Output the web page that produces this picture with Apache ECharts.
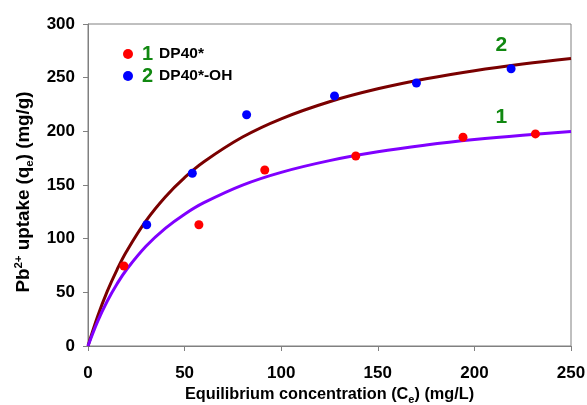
<!DOCTYPE html>
<html><head><meta charset="utf-8">
<script src="https://cdn.jsdelivr.net/npm/echarts@6/dist/echarts.min.js"></script>
<style>html,body{margin:0;padding:0;background:#fff}#c{width:587px;height:405px}</style>
</head><body><div id="c"></div>
<script>
// Measured points
var dp40 = [[18.6,74.5],[57.4,113],[91.5,164],[138.6,177],[194.1,194.5],[231.6,197.6]];
var dp40oh = [[30.4,113],[54,161],[82.1,215.5],[127.6,233],[170,245],[219,258.3]];
// Fitted curves
var fitX  = [0,5,10,15,20,30,40,50,60,80,100,125,150,175,200,225,250];
var fit1Y = [0,23.0,41.9,57.8,71.3,92.9,109.6,122.8,133.5,149.9,161.8,172.7,180.9,187.2,192.3,196.4,199.8];
var fit2Y = [0,27.7,51.1,71.0,88.3,116.6,138.9,156.9,171.7,194.7,211.7,227.6,239.6,249.0,256.5,262.7,267.9];
var xTicks = [0,50,100,150,200,250];
var yTicks = [0,50,100,150,200,250,300];

function pairs(xs, ys){ return xs.map(function(x,i){return [x, ys[i]];}); }

var chart = echarts.init(document.getElementById('c'));
var F = 'Liberation Sans, Arial, sans-serif';
chart.setOption({
  animation:false,
  grid:{left:88,right:16,top:24,bottom:59,show:true,borderColor:'#808080',borderWidth:1,
        containLabel:false,outerBoundsMode:'none'},
  legend:{
    orient:'vertical', left:118, top:39, itemGap:2, itemWidth:10, itemHeight:10,
    data:[{name:'DP40*',icon:'circle'},{name:'DP40*-OH',icon:'circle'}],
    formatter:function(n){ return '{n|'+(n==='DP40*'?'1':'2')+'}{t|'+n+'}'; },
    textStyle:{ rich:{
      n:{color:'#118811',fontSize:20,fontWeight:'bold',fontFamily:F,padding:[0,0,0,4]},
      t:{color:'#000',fontSize:15.5,fontWeight:'bold',fontFamily:F,padding:[0,0,0,6]}
    }}
  },
  xAxis:{
    type:'value', min:0, max:250, interval:50,
    name:'{a|Equilibrium concentration (C}{s|e}{a|) (mg/L)}',
    nameLocation:'middle', nameGap:37,
    nameTextStyle:{rich:{a:{fontSize:16.3,fontWeight:'bold',color:'#000',fontFamily:F},
                          s:{fontSize:11,fontWeight:'bold',color:'#000',fontFamily:F,padding:[10,0,0,0]}}},
    axisLine:{lineStyle:{color:'#808080'}},
    axisTick:{show:true,length:5,lineStyle:{color:'#808080'}},
    splitLine:{show:false},
    axisLabel:{fontSize:17,fontWeight:'bold',color:'#000',fontFamily:F,margin:19,
      formatter:function(v){return xTicks.indexOf(v)>=0?String(v):'';}}
  },
  yAxis:{
    type:'value', min:0, max:300, interval:50,
    name:'{a|Pb}{p|2+}{a| uptake (q}{s|e}{a|) (mg/g)}',
    nameLocation:'middle', nameGap:47, nameRotate:90,
    nameTextStyle:{padding:[0,14,0,0],
                   rich:{a:{fontSize:18.8,fontWeight:'bold',color:'#000',fontFamily:F},
                          p:{fontSize:11.5,fontWeight:'bold',color:'#000',fontFamily:F,padding:[0,0,11,0]},
                          s:{fontSize:11.5,fontWeight:'bold',color:'#000',fontFamily:F,padding:[11,0,0,0]}}},
    axisLine:{show:true,lineStyle:{color:'#808080'}},
    axisTick:{show:true,length:5,lineStyle:{color:'#808080'}},
    splitLine:{show:false},
    axisLabel:{fontSize:17,fontWeight:'bold',color:'#000',fontFamily:F,margin:13,
      formatter:function(v){return yTicks.indexOf(v)>=0?String(v):'';}}
  },
  series:[
    {name:'fit2',type:'line',data:pairs(fitX,fit2Y),smooth:0.4,showSymbol:false,
     lineStyle:{color:'#7a0000',width:3},z:2,
     markPoint:{symbol:'circle',symbolSize:0,data:[{coord:[214,280.5],value:'2'}],
       label:{show:true,formatter:'2',color:'#118811',fontSize:21,fontWeight:'bold',fontFamily:F}}},
    {name:'fit1',type:'line',data:pairs(fitX,fit1Y),smooth:0.4,showSymbol:false,
     lineStyle:{color:'#8000ff',width:3},z:2,
     markPoint:{symbol:'circle',symbolSize:0,data:[{coord:[214,213.5],value:'1'}],
       label:{show:true,formatter:'1',color:'#118811',fontSize:21,fontWeight:'bold',fontFamily:F}}},
    {name:'DP40*',type:'scatter',data:dp40,symbolSize:9,itemStyle:{color:'#ff0000',opacity:1},z:3},
    {name:'DP40*-OH',type:'scatter',data:dp40oh,symbolSize:9,itemStyle:{color:'#0000ff',opacity:1},z:3}
  ]
});
</script></body></html>
